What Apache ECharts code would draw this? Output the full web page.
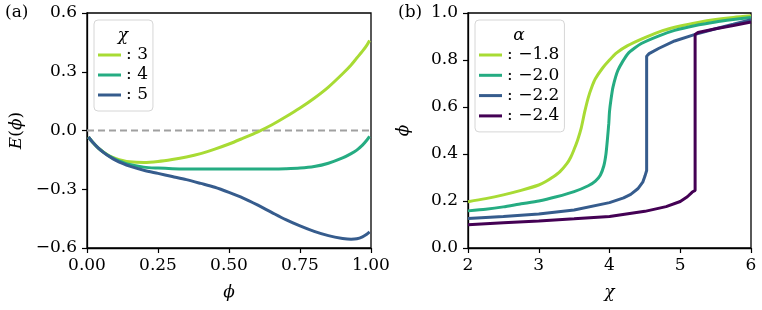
<!DOCTYPE html>
<html><head><meta charset="utf-8">
<script src="https://cdn.jsdelivr.net/npm/echarts@6/dist/echarts.min.js"></script>
<style>html,body{margin:0;padding:0;background:#fff}#c{width:762px;height:310px}</style>
</head><body><div id="c"></div>
<script>
// Panel (a): E(phi) for chi = 3, 4, 5
const phiA = [0.005,0.02,0.04,0.06,0.08,0.1,0.125,0.15,0.2,0.25,0.3,0.35,0.4,0.45,0.5,0.55,0.6,0.65,0.7,0.75,0.8,0.85,0.9,0.93,0.95,0.97,0.985,0.995];
const chi3 = [-0.033,-0.06,-0.09,-0.112,-0.13,-0.142,-0.153,-0.16,-0.163,-0.158,-0.148,-0.135,-0.118,-0.095,-0.069,-0.039,-0.008,0.028,0.07,0.115,0.165,0.222,0.29,0.335,0.37,0.405,0.435,0.46];
const chi4 = [-0.033,-0.06,-0.09,-0.113,-0.132,-0.147,-0.162,-0.174,-0.187,-0.192,-0.195,-0.196,-0.196,-0.196,-0.196,-0.196,-0.196,-0.196,-0.195,-0.192,-0.184,-0.167,-0.14,-0.118,-0.1,-0.075,-0.05,-0.03];
const chi5 = [-0.033,-0.06,-0.09,-0.114,-0.134,-0.151,-0.168,-0.182,-0.203,-0.219,-0.235,-0.251,-0.27,-0.29,-0.316,-0.345,-0.38,-0.418,-0.455,-0.487,-0.515,-0.537,-0.551,-0.555,-0.553,-0.543,-0.53,-0.518];
const chiNames = ['3','4','5'];
const zeroLine = [[0,0],[1,0]];

// Panel (b): phi vs chi for alpha values
const alphaNames = ['\u22121.8','\u22122.0','\u22122.2','\u22122.4'];
const a18x = [2.0,2.25,2.5,2.75,3.0,3.1,3.2,3.3,3.4,3.45,3.5,3.55,3.6,3.65,3.7,3.75,3.8,3.9,4.0,4.1,4.25,4.5,4.75,5.0,5.25,5.5,5.75,6.0];
const a18y = [0.197,0.21,0.226,0.245,0.268,0.283,0.302,0.325,0.36,0.385,0.42,0.46,0.51,0.58,0.64,0.685,0.72,0.765,0.8,0.83,0.86,0.895,0.925,0.945,0.96,0.972,0.981,0.988];
const a20x = [2.0,2.25,2.5,2.75,3.0,3.25,3.5,3.7,3.8,3.87,3.92,3.95,3.97,3.99,4.0,4.02,4.05,4.12,4.26,4.45,4.7,4.92,5.2,5.5,5.75,6.0];
const a20y = [0.158,0.165,0.175,0.188,0.2,0.218,0.24,0.265,0.285,0.31,0.35,0.4,0.46,0.53,0.58,0.63,0.686,0.757,0.827,0.87,0.903,0.926,0.946,0.962,0.972,0.981];
const a22x = [2.0,2.5,3.0,3.5,4.0,4.2,4.3,4.4,4.47,4.5,4.525,4.525,4.56,4.7,4.92,5.2,5.5,5.75,6.0];
const a22y = [0.126,0.134,0.145,0.162,0.193,0.213,0.228,0.252,0.28,0.305,0.33,0.816,0.827,0.85,0.881,0.908,0.933,0.952,0.972];
const a24x = [2.0,2.5,3.0,3.5,4.0,4.5,4.8,5.0,5.1,5.17,5.21,5.21,5.25,5.5,5.75,6.0];
const a24y = [0.099,0.107,0.115,0.124,0.134,0.156,0.176,0.198,0.218,0.238,0.245,0.909,0.917,0.933,0.947,0.962];

const colors = ['#a8db34','#25ac82','#365c8d','#440154'];
const FONT = 'DejaVu Serif';
const FS = 17;

const zip = (xs, ys) => xs.map((x,i)=>[x, ys[i]]);
const minus = s => s.replace('-', '\u2212');
const T = {fontFamily:FONT,fontSize:FS,color:'#000'};
const RICH = {t:Object.assign({},T), i:Object.assign({fontStyle:'italic'},T)};

const chart = echarts.init(document.getElementById('c'), null, {renderer:'canvas'});

function axisCommon(margin, fmt, name, nameGap) {
  return {
    axisLine:{show:true,onZero:false,lineStyle:{color:'#000',width:1.3}},
    axisTick:{show:true,inside:false,length:5,lineStyle:{color:'#000',width:1.2}},
    splitLine:{show:false},
    axisLabel:Object.assign({margin:margin,formatter:v=>'{t|'+fmt(v)+'}',rich:RICH}, T),
    name:name,nameLocation:'middle',nameGap:nameGap,
    nameTextStyle:Object.assign({rich:RICH}, T)
  };
}

const option = {
  animation:false,
  backgroundColor:'#fff',
  textStyle:{fontFamily:FONT},
  grid:[
    {left:87,top:13,width:284,height:235,show:true,borderColor:'#000',borderWidth:1.3,containLabel:false},
    {left:468,top:13,width:283,height:235,show:true,borderColor:'#000',borderWidth:1.3,containLabel:false}
  ],
  xAxis:[
    Object.assign({gridIndex:0,type:'value',min:0,max:1,interval:0.25},
      axisCommon(9, v=>v.toFixed(2), '{i|\u03D5}', 36)),
    Object.assign({gridIndex:1,type:'value',min:2,max:6,interval:1},
      axisCommon(9, v=>String(v), '{i|\u03C7}', 36))
  ],
  yAxis:[
    Object.assign({gridIndex:0,type:'value',min:-0.6,max:0.6,interval:0.3},
      axisCommon(10, v=>minus(v.toFixed(1)), '{i|E}{t|(}{i|\u03D5}{t|)}', 62)),
    Object.assign({gridIndex:1,type:'value',min:0,max:1,interval:0.2},
      axisCommon(10, v=>v.toFixed(1), '{i|\u03D5}', 56))
  ],
  legend:[
    {data:chiNames,left:94,top:20,orient:'vertical',padding:[25,5,6,4],itemGap:0,itemWidth:23,itemHeight:3,icon:'rect',
     backgroundColor:'#fff',borderColor:'#d6d6d6',borderWidth:1,borderRadius:4,
     formatter:n=>'{t|: '+n+'}',textStyle:Object.assign({lineHeight:20,rich:RICH},T),selectedMode:false},
    {data:alphaNames,left:475,top:20,orient:'vertical',padding:[25,5,6,4],itemGap:0.3,itemWidth:23,itemHeight:3,icon:'rect',
     backgroundColor:'#fff',borderColor:'#d6d6d6',borderWidth:1,borderRadius:4,
     formatter:n=>'{t|: '+n+'}',textStyle:Object.assign({lineHeight:20,rich:RICH},T),selectedMode:false}
  ],
  graphic:[
    {type:'text',left:5,top:4,style:{text:'(a)',font:FS+'px '+FONT,fill:'#000'}},
    {type:'text',left:398,top:4,style:{text:'(b)',font:FS+'px '+FONT,fill:'#000'}},
    {type:'text',x:123,y:36,z:100,style:{text:'\u03C7',font:'italic '+FS+'px '+FONT,fill:'#000',align:'center',verticalAlign:'middle'}},
    {type:'text',x:519,y:36,z:100,style:{text:'\u03B1',font:'italic '+FS+'px '+FONT,fill:'#000',align:'center',verticalAlign:'middle'}}
  ],
  series:[
    {type:'line',xAxisIndex:0,yAxisIndex:0,data:zeroLine,symbol:'none',silent:true,
     lineStyle:{color:'#a0a0a0',width:2,type:[7,4]},z:1},
    {name:'3',type:'line',xAxisIndex:0,yAxisIndex:0,data:zip(phiA,chi3),symbol:'none',smooth:0.3,lineStyle:{color:colors[0],width:3},itemStyle:{color:colors[0]}},
    {name:'4',type:'line',xAxisIndex:0,yAxisIndex:0,data:zip(phiA,chi4),symbol:'none',smooth:0.3,lineStyle:{color:colors[1],width:3},itemStyle:{color:colors[1]}},
    {name:'5',type:'line',xAxisIndex:0,yAxisIndex:0,data:zip(phiA,chi5),symbol:'none',smooth:0.3,lineStyle:{color:colors[2],width:3},itemStyle:{color:colors[2]}},
    {name:alphaNames[0],type:'line',xAxisIndex:1,yAxisIndex:1,data:zip(a18x,a18y),symbol:'none',smooth:0.3,lineStyle:{color:colors[0],width:3},itemStyle:{color:colors[0]}},
    {name:alphaNames[1],type:'line',xAxisIndex:1,yAxisIndex:1,data:zip(a20x,a20y),symbol:'none',smooth:0.2,lineStyle:{color:colors[1],width:3},itemStyle:{color:colors[1]}},
    {name:alphaNames[2],type:'line',xAxisIndex:1,yAxisIndex:1,data:zip(a22x,a22y),symbol:'none',lineStyle:{color:colors[2],width:3},itemStyle:{color:colors[2]}},
    {name:alphaNames[3],type:'line',xAxisIndex:1,yAxisIndex:1,data:zip(a24x,a24y),symbol:'none',lineStyle:{color:colors[3],width:3},itemStyle:{color:colors[3]}}
  ]
};
chart.setOption(option);
</script></body></html>
